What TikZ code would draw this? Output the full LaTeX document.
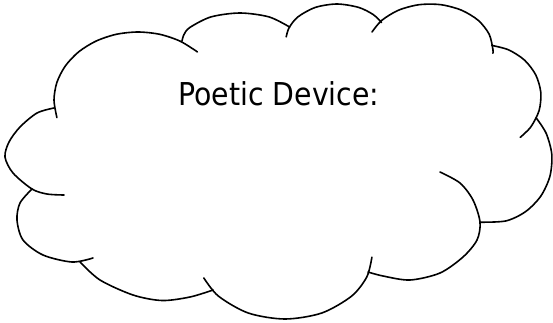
\documentclass[tikz,border=0pt]{standalone}
\usepackage{fontspec}
\setmainfont{DejaVu Sans Condensed}
\usepackage{tikz}

\tikzset{
  cloudline/.style={draw=black, line width=1.6pt, line cap=round, line join=round},
  cloudtext/.style={anchor=base, inner sep=0pt, font=\fontsize{31.5}{36}\selectfont}
}

\begin{document}
\begin{tikzpicture}[x=1pt, y=-1pt]
  \useasboundingbox (0,0) rectangle (553,322);

  % cloud outline, lump by lump (clockwise from the upper left)
  \draw[cloudline] plot[smooth] coordinates {(56.9,117.6) (54,100) (56.9,82.4) (65.3,66) (78.6,51.9) (96,41.1) (116.3,34.3) (138,32) (159.7,34.3) (180,41.1) (197.4,51.9)};
  \draw[cloudline] plot[smooth] coordinates {(182,41) (184,34.5) (189.8,27.5) (211,16.9) (240,13) (269,16.9) (289.7,27.1)};
  \draw[cloudline] plot[smooth] coordinates {(286.2,36.9) (289.1,27.7) (297.9,16.9) (315.4,7.4) (337,4) (358.6,7.4) (373.1,14.5) (381.6,22.5)};
  \draw[cloudline] plot[smooth] coordinates {(372,32) (381.7,20.4) (398.5,10.2) (419.1,4.7) (440.9,4.7) (461.5,10.2) (478.3,20.4) (489.2,34.3) (493,50) (492.8,53.2)};
  \draw[cloudline] plot[smooth] coordinates {(491.8,45.4) (508.7,49.9) (524.6,60.2) (535.8,75) (540.8,92.5) (539.1,110.5) (530.9,126.8) (520.2,137.4)};
  \draw[cloudline] plot[smooth] coordinates {(536.1,117.8) (546.2,133.4) (551.8,154.5) (549.9,176.3) (540.8,196.1) (525.6,211.6) (506,220.9) (480.3,222.2)};
  \draw[cloudline] plot[smooth] coordinates {(440,172) (460,183) (473,200) (480,222) (477,240) (463,257) (440,273) (410,280) (383,276) (368,272)};
  \draw[cloudline] plot[smooth] coordinates {(203.8,277.9) (218.4,296.1) (248.2,313) (285,319) (321.8,313) (351.6,296.1) (366.8,276.9) (371.9,257.2)};
  \draw[cloudline] plot[smooth] coordinates {(80,262) (100,280) (133,295) (162,300.5) (190,297) (213,290)};
  \draw[cloudline] plot[smooth] coordinates {(32,189) (20,203) (17,220) (23,240) (43,255) (72,262) (93,258)};
  \draw[cloudline] plot[smooth] coordinates {(54,108) (37,113) (20,127) (9,142) (5,157) (13,173) (32,189) (47,194) (64,195)};

  \node[cloudtext] (device) at (279,105) {Poetic Device:};
\end{tikzpicture}
\end{document}
